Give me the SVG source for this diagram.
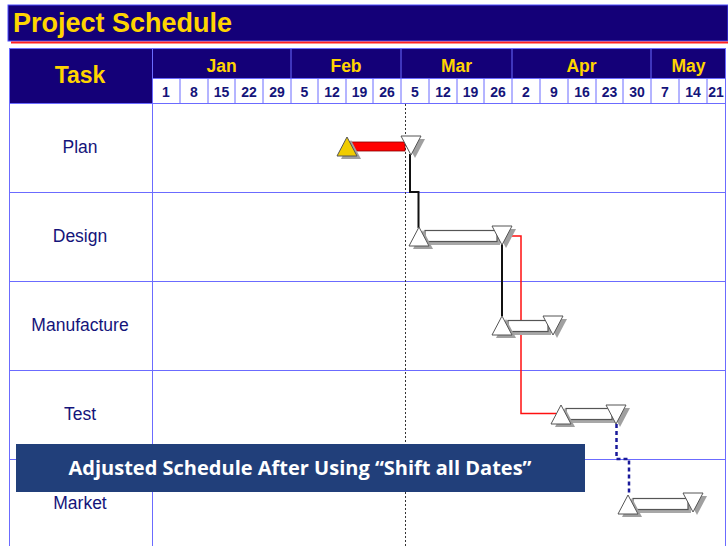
<svg xmlns="http://www.w3.org/2000/svg" xmlns:xlink="http://www.w3.org/1999/xlink" width="728" height="546" viewBox="0 0 728 546">
<style>
.hdr{fill:#140078}
.grid{stroke:#6b6bff;stroke-width:1;fill:none}
.title{font-family:"Liberation Sans",Arial,sans-serif;font-weight:bold;fill:#ffd400}
.date{font-family:"Liberation Sans",Arial,sans-serif;font-weight:bold;font-size:14px;fill:#14147a;text-anchor:middle}
.month{font-family:"Liberation Sans",Arial,sans-serif;font-weight:bold;font-size:17.5px;fill:#ffd400;text-anchor:middle}
.task{font-family:"Liberation Sans",Arial,sans-serif;font-size:17.5px;fill:#14147a;text-anchor:middle}
.bar{fill:#fff;stroke:#555;stroke-width:1.2}
.barsh{fill:#a8a8a8}
.tri{fill:#fff;stroke:#555;stroke-width:1}
.sh{fill:#a0a0a0}
</style>
<defs>
<g id="upT"><polygon class="sh" points="4,3 14,22 -6,22"/><polygon class="tri" points="0,0 10,19 -10,19"/></g>
<g id="downT"><polygon class="sh" points="-6,3 14,3 4,22"/><polygon class="tri" points="-10,0 10,0 0,19"/></g>
</defs>
<rect width="728" height="546" fill="#fff"/>
<g id="titlebar">
<rect x="8" y="5" width="720" height="36" class="hdr" stroke="#4b4bff" stroke-width="1"/>
<line x1="11" y1="42.5" x2="728" y2="42.5" stroke="#ff2020" stroke-width="2"/>
<text class="title" x="13" y="32" font-size="27">Project Schedule</text>
</g>
<g id="table">
<rect x="9" y="48" width="717" height="55" class="hdr"/>
<rect x="152" y="78" width="574" height="25" fill="#fff"/>
<g class="grid">
<rect x="9.5" y="48.5" width="716" height="520"/>
<line x1="152.5" y1="48" x2="152.5" y2="546"/>
<line x1="152" y1="78.5" x2="726" y2="78.5"/>
<line x1="9" y1="103.5" x2="726" y2="103.5"/>
<line x1="9" y1="192.5" x2="726" y2="192.5"/>
<line x1="9" y1="281.5" x2="726" y2="281.5"/>
<line x1="9" y1="370.5" x2="726" y2="370.5"/>
<line x1="9" y1="459.5" x2="726" y2="459.5"/>
<line x1="291" y1="48" x2="291" y2="78"/>
<line x1="401" y1="48" x2="401" y2="78"/>
<line x1="512" y1="48" x2="512" y2="78"/>
<line x1="651" y1="48" x2="651" y2="78"/>
<path d="M180 78V103M208 78V103M235 78V103M263 78V103M291 78V103M318 78V103M346 78V103M373 78V103M401 78V103M429 78V103M457 78V103M484 78V103M512 78V103M540 78V103M568 78V103M596 78V103M623 78V103M651 78V103M679 78V103M707 78V103"/>
</g>
<text class="title" x="80" y="83" font-size="23" text-anchor="middle">Task</text>
<text class="month" x="221.5" y="72">Jan</text>
<text class="month" x="346" y="72">Feb</text>
<text class="month" x="456.5" y="72">Mar</text>
<text class="month" x="581.5" y="72">Apr</text>
<text class="month" x="688.5" y="72">May</text>
<text class="date" x="166" y="97">1</text>
<text class="date" x="194" y="97">8</text>
<text class="date" x="221.5" y="97">15</text>
<text class="date" x="249" y="97">22</text>
<text class="date" x="277" y="97">29</text>
<text class="date" x="304.5" y="97">5</text>
<text class="date" x="332" y="97">12</text>
<text class="date" x="359.5" y="97">19</text>
<text class="date" x="387" y="97">26</text>
<text class="date" x="415" y="97">5</text>
<text class="date" x="443" y="97">12</text>
<text class="date" x="470.5" y="97">19</text>
<text class="date" x="498" y="97">26</text>
<text class="date" x="526" y="97">2</text>
<text class="date" x="554" y="97">9</text>
<text class="date" x="582" y="97">16</text>
<text class="date" x="609.5" y="97">23</text>
<text class="date" x="637" y="97">30</text>
<text class="date" x="665" y="97">7</text>
<text class="date" x="693" y="97">14</text>
<text class="date" x="716" y="97">21</text>
<line x1="405.5" y1="104" x2="405.5" y2="546" stroke="#333" stroke-width="1" stroke-dasharray="2,2"/>
</g>
<g id="task-plan"><text class="task" x="80" y="153">Plan</text></g>
<g id="task-design"><text class="task" x="80" y="242">Design</text></g>
<g id="task-manufacture"><text class="task" x="80" y="331">Manufacture</text></g>
<g id="task-test"><text class="task" x="80" y="420">Test</text></g>
<g id="task-market"><text class="task" x="80" y="509">Market</text></g>
<g id="connectors" fill="none">
<polyline points="410,154 410,192 418.5,192 418.5,228" stroke="#111" stroke-width="2"/>
<polyline points="502,244 502,316" stroke="#111" stroke-width="2"/>
<polyline points="512,236 521,236 521,413.5 556,413.5" stroke="#ff1010" stroke-width="1.5"/>
<polyline points="616.5,424 616.5,459 629,459 629,495" stroke="#1a1a9a" stroke-width="2.5" stroke-dasharray="4,3"/>
</g>
<g id="bar-plan">
<rect x="350" y="142" width="55" height="9" fill="#ff0000" stroke="#8a0000" stroke-width="0.8"/>
<g><polygon class="sh" points="351,140 361,159 341,159"/><polygon points="347,137 357,156 337,156" fill="#f0cc00" stroke="#555" stroke-width="1"/></g>
<use xlink:href="#downT" x="411" y="136"/>
</g>
<g id="bar-design">
<rect class="barsh" x="428" y="233" width="72" height="12"/>
<rect class="bar" x="425" y="230.5" width="72" height="11"/>
<use xlink:href="#upT" x="419" y="227"/>
<use xlink:href="#downT" x="502" y="226"/>
</g>
<g id="bar-manufacture">
<rect class="barsh" x="511" y="323" width="40" height="12"/>
<rect class="bar" x="508" y="320.5" width="40" height="11"/>
<use xlink:href="#upT" x="502" y="316"/>
<use xlink:href="#downT" x="553" y="316"/>
</g>
<g id="bar-test">
<rect class="barsh" x="569" y="411" width="46" height="12"/>
<rect class="bar" x="566" y="408.5" width="46" height="11"/>
<use xlink:href="#upT" x="561" y="405"/>
<use xlink:href="#downT" x="616" y="405"/>
</g>
<g id="bar-market">
<rect class="barsh" x="636" y="501" width="55" height="12"/>
<rect class="bar" x="633" y="498.5" width="55" height="11"/>
<use xlink:href="#upT" x="628" y="495"/>
<use xlink:href="#downT" x="693" y="493"/>
</g>
<g id="caption">
<rect x="16" y="444" width="569" height="48" fill="#213f7a"/>
<text x="300" y="475" font-family="'Open Sans','Liberation Sans',sans-serif" font-weight="bold" font-size="20" fill="#fff" text-anchor="middle" textLength="463" lengthAdjust="spacingAndGlyphs">Adjusted Schedule After Using “Shift all Dates”</text>
</g>
</svg>
